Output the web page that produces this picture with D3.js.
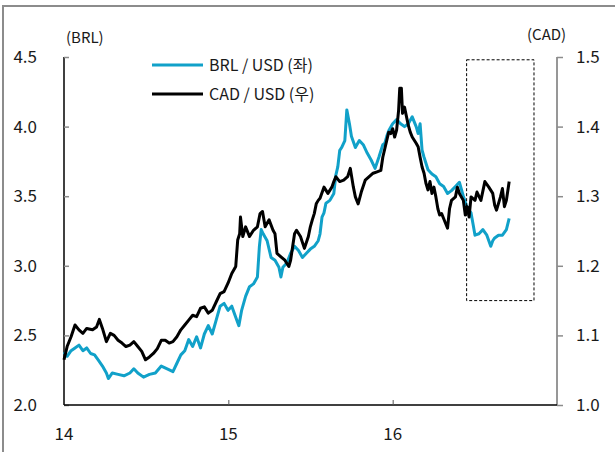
<!DOCTYPE html>
<html>
<head>
<meta charset="utf-8">
<script src="https://cdn.jsdelivr.net/npm/d3@7"></script>
<style>
  html, body { margin: 0; padding: 0; background: #fff; }
  svg { display: block; font-family: "Noto Sans CJK KR", "Noto Sans", sans-serif; }
</style>
</head>
<body>
<div class="chart"></div>
<script>
// 축 눈금
const xTicks = [14, 15, 16]
const brlTicks = [2.0, 2.5, 3.0, 3.5, 4.0, 4.5]
const cadTicks = [1.0, 1.1, 1.2, 1.3, 1.4, 1.5]
const seriesNames = ['BRL / USD (좌)', 'CAD / USD (우)']

// BRL / USD (좌축) : [연도, 값]
const brl = [
  [14.000, 2.38], [14.019, 2.35], [14.043, 2.39], [14.067, 2.41], [14.091, 2.43], [14.115, 2.39],
  [14.138, 2.41], [14.162, 2.37], [14.186, 2.36], [14.210, 2.32], [14.234, 2.28], [14.258, 2.23],
  [14.270, 2.19], [14.294, 2.23], [14.329, 2.22], [14.365, 2.21], [14.401, 2.23], [14.425, 2.26],
  [14.449, 2.23], [14.484, 2.20], [14.520, 2.22], [14.556, 2.23], [14.592, 2.28], [14.628, 2.26],
  [14.663, 2.24], [14.687, 2.30], [14.711, 2.36], [14.735, 2.39], [14.759, 2.47], [14.783, 2.42],
  [14.807, 2.49], [14.831, 2.41], [14.854, 2.51], [14.878, 2.57], [14.902, 2.51], [14.926, 2.61],
  [14.950, 2.71], [14.974, 2.73], [14.998, 2.68], [15.021, 2.71], [15.045, 2.63], [15.064, 2.57],
  [15.081, 2.68], [15.105, 2.78], [15.129, 2.85], [15.153, 2.87], [15.177, 2.92], [15.189, 3.14],
  [15.200, 3.26], [15.212, 3.23], [15.236, 3.18], [15.260, 3.06], [15.284, 3.04], [15.308, 2.99],
  [15.320, 2.92], [15.332, 2.99], [15.356, 3.02], [15.379, 3.09], [15.403, 3.14], [15.427, 3.11],
  [15.451, 3.06], [15.475, 3.09], [15.499, 3.12], [15.523, 3.14], [15.547, 3.18], [15.558, 3.23],
  [15.570, 3.35], [15.582, 3.38], [15.594, 3.45], [15.618, 3.47], [15.642, 3.52], [15.654, 3.65],
  [15.666, 3.71], [15.678, 3.83], [15.690, 3.85], [15.709, 3.90], [15.721, 4.12], [15.737, 4.02],
  [15.749, 3.93], [15.773, 3.85], [15.797, 3.90], [15.821, 3.87], [15.845, 3.81], [15.869, 3.76],
  [15.893, 3.70], [15.916, 3.78], [15.940, 3.87], [15.952, 3.88], [15.964, 3.93], [15.976, 3.97],
  [16.000, 4.02], [16.024, 4.05], [16.048, 4.02], [16.072, 4.00], [16.095, 4.02], [16.119, 4.07],
  [16.143, 4.00], [16.155, 3.95], [16.167, 4.02], [16.179, 3.83], [16.191, 3.78], [16.215, 3.69],
  [16.239, 3.66], [16.263, 3.64], [16.286, 3.59], [16.310, 3.57], [16.334, 3.52], [16.358, 3.54],
  [16.382, 3.57], [16.406, 3.60], [16.430, 3.50], [16.453, 3.42], [16.477, 3.38], [16.489, 3.30],
  [16.501, 3.22], [16.525, 3.23], [16.549, 3.26], [16.573, 3.22], [16.597, 3.14], [16.609, 3.18],
  [16.621, 3.20], [16.644, 3.22], [16.668, 3.22], [16.692, 3.26], [16.709, 3.34]
]

// CAD / USD (우축) : [연도, 값]
const cad = [
  [14.000, 1.065], [14.019, 1.084], [14.043, 1.098], [14.067, 1.115], [14.091, 1.108], [14.115, 1.103],
  [14.138, 1.110], [14.174, 1.108], [14.198, 1.112], [14.215, 1.123], [14.234, 1.110], [14.258, 1.091],
  [14.282, 1.103], [14.305, 1.100], [14.329, 1.093], [14.353, 1.089], [14.377, 1.084], [14.401, 1.086],
  [14.425, 1.091], [14.449, 1.084], [14.473, 1.077], [14.496, 1.065], [14.520, 1.069], [14.544, 1.074],
  [14.568, 1.081], [14.592, 1.093], [14.616, 1.093], [14.640, 1.089], [14.663, 1.091], [14.687, 1.098],
  [14.711, 1.108], [14.735, 1.115], [14.759, 1.122], [14.783, 1.129], [14.807, 1.127], [14.831, 1.139],
  [14.854, 1.141], [14.878, 1.132], [14.902, 1.136], [14.926, 1.148], [14.950, 1.160], [14.974, 1.163],
  [14.998, 1.175], [15.021, 1.189], [15.045, 1.199], [15.057, 1.237], [15.069, 1.246], [15.074, 1.270],
  [15.088, 1.242], [15.105, 1.256], [15.129, 1.242], [15.153, 1.251], [15.177, 1.256], [15.193, 1.275],
  [15.208, 1.278], [15.224, 1.256], [15.248, 1.266], [15.272, 1.251], [15.284, 1.246], [15.296, 1.218],
  [15.320, 1.213], [15.344, 1.208], [15.368, 1.199], [15.379, 1.208], [15.391, 1.227], [15.403, 1.246],
  [15.415, 1.251], [15.439, 1.242], [15.463, 1.225], [15.487, 1.242], [15.499, 1.256], [15.511, 1.266],
  [15.523, 1.275], [15.535, 1.289], [15.547, 1.294], [15.558, 1.297], [15.582, 1.313], [15.606, 1.304],
  [15.630, 1.313], [15.642, 1.321], [15.654, 1.328], [15.678, 1.321], [15.702, 1.323], [15.726, 1.328],
  [15.742, 1.340], [15.761, 1.313], [15.773, 1.299], [15.790, 1.289], [15.809, 1.306], [15.833, 1.323],
  [15.857, 1.328], [15.881, 1.333], [15.905, 1.335], [15.928, 1.337], [15.940, 1.356], [15.964, 1.380],
  [15.976, 1.392], [15.988, 1.390], [16.000, 1.397], [16.012, 1.385], [16.024, 1.395], [16.036, 1.423],
  [16.043, 1.455], [16.053, 1.455], [16.060, 1.419], [16.072, 1.428], [16.095, 1.402], [16.107, 1.392],
  [16.119, 1.385], [16.143, 1.376], [16.155, 1.371], [16.167, 1.356], [16.179, 1.342], [16.191, 1.333],
  [16.203, 1.318], [16.215, 1.309], [16.227, 1.321], [16.239, 1.304], [16.251, 1.313], [16.263, 1.299],
  [16.275, 1.282], [16.286, 1.273], [16.298, 1.275], [16.310, 1.268], [16.334, 1.254], [16.346, 1.282],
  [16.358, 1.294], [16.382, 1.299], [16.394, 1.313], [16.406, 1.304], [16.430, 1.294], [16.442, 1.273],
  [16.453, 1.285], [16.465, 1.270], [16.477, 1.299], [16.501, 1.294], [16.513, 1.306], [16.537, 1.294],
  [16.561, 1.321], [16.585, 1.313], [16.609, 1.304], [16.621, 1.287], [16.632, 1.280], [16.656, 1.299],
  [16.668, 1.311], [16.680, 1.285], [16.692, 1.294], [16.709, 1.321]
]

// 점선 박스 구간 (연도, 좌축 값)
const boxRange = { x: [16.45, 16.86], y: [2.75, 4.48] }

const width = 615
const height = 452
const margin = { top: 57, right: 58, bottom: 47, left: 64 }
const cyan = '#11a1c9'

const svg = d3.select('.chart').append('svg')
  .attr('width', width)
  .attr('height', height)

// 바깥 테두리
svg.append('rect')
  .attr('x', 3).attr('y', 6)
  .attr('width', width + 20).attr('height', height + 20)
  .attr('fill', 'none')
  .attr('stroke', '#8c8c8c')
  .attr('stroke-width', 2)

const x = d3.scaleLinear().domain([14, 17]).range([margin.left, width - margin.right])
const yL = d3.scaleLinear().domain([2.0, 4.5]).range([height - margin.bottom, margin.top])
const yR = d3.scaleLinear().domain([1.0, 1.5]).range([height - margin.bottom, margin.top])

// 좌축
const leftAxis = svg.append('g')
  .attr('transform', `translate(${margin.left},0)`)
  .call(d3.axisRight(yL).tickValues(brlTicks).tickSize(5).tickFormat(''))
leftAxis.select('.domain').attr('stroke', '#000').attr('stroke-width', 1.5).attr('d', `M0,${yL(4.5)}V${yL(2.0)}`)
leftAxis.selectAll('.tick line').attr('stroke', '#8c8c8c').attr('stroke-width', 1.5)
svg.append('g').selectAll('text').data(brlTicks).join('text')
  .attr('x', 37)
  .attr('y', d => yL(d))
  .attr('dy', '0.35em')
  .attr('text-anchor', 'end')
  .attr('font-size', 17)
  .attr('fill', '#1a1a1a')
  .text(d => d.toFixed(1))

// 우축
const rightAxis = svg.append('g')
  .attr('transform', `translate(${width - margin.right},0)`)
  .call(d3.axisRight(yR).tickValues(cadTicks).tickSize(6).tickFormat(''))
rightAxis.select('.domain').attr('stroke', '#8c8c8c').attr('stroke-width', 1.8).attr('d', `M0,${yR(1.5)}V${yR(1.0)}`)
rightAxis.selectAll('.tick line').attr('stroke', '#8c8c8c').attr('stroke-width', 1.5)
svg.append('g').selectAll('text').data(cadTicks).join('text')
  .attr('x', 576)
  .attr('y', d => yR(d))
  .attr('dy', '0.35em')
  .attr('font-size', 17)
  .attr('fill', '#1a1a1a')
  .text(d => d.toFixed(1))

// x축
const bottomAxis = svg.append('g')
  .attr('transform', `translate(0,${height - margin.bottom})`)
  .call(d3.axisTop(x).tickValues([15, 16]).tickSize(5).tickFormat(''))
bottomAxis.select('.domain').attr('stroke', '#000').attr('stroke-width', 1.5).attr('d', `M${x(14)},0H${x(17)}`)
bottomAxis.selectAll('.tick line').attr('stroke', '#555')
svg.append('g').selectAll('text').data(xTicks).join('text')
  .attr('x', d => x(d))
  .attr('y', 440)
  .attr('text-anchor', 'middle')
  .attr('font-size', 17)
  .attr('fill', '#1a1a1a')
  .text(d => d)

// 단위
svg.append('text').attr('x', 66).attr('y', 43).attr('font-size', 15).attr('fill', '#1a1a1a').text('(BRL)')
svg.append('text').attr('x', 527).attr('y', 40).attr('font-size', 15).attr('fill', '#1a1a1a').text('(CAD)')

// 라인
const lineL = d3.line().x(d => x(d[0])).y(d => yL(d[1]))
const lineR = d3.line().x(d => x(d[0])).y(d => yR(d[1]))

svg.append('path').datum(brl)
  .attr('fill', 'none')
  .attr('stroke', cyan)
  .attr('stroke-width', 3)
  .attr('stroke-linejoin', 'round')
  .attr('d', lineL)

svg.append('path').datum(cad)
  .attr('fill', 'none')
  .attr('stroke', '#000')
  .attr('stroke-width', 3)
  .attr('stroke-linejoin', 'round')
  .attr('d', lineR)

// 점선 박스
svg.append('rect')
  .attr('x', x(boxRange.x[0]))
  .attr('y', yL(boxRange.y[1]))
  .attr('width', x(boxRange.x[1]) - x(boxRange.x[0]))
  .attr('height', yL(boxRange.y[0]) - yL(boxRange.y[1]))
  .attr('fill', 'none')
  .attr('stroke', '#000')
  .attr('stroke-width', 1)
  .attr('stroke-dasharray', '3,2')

// 범례
const legend = svg.append('g').selectAll('g').data(seriesNames).join('g')
  .attr('transform', (d, i) => `translate(152,${65 + i * 29})`)
legend.append('line')
  .attr('x1', 0).attr('x2', 51)
  .attr('stroke', (d, i) => i === 0 ? cyan : '#000')
  .attr('stroke-width', 3)
legend.append('text')
  .attr('x', 57)
  .attr('dy', '0.35em')
  .attr('font-size', 16)
  .attr('fill', '#1a1a1a')
  .text(d => d)
</script>
</body>
</html>
